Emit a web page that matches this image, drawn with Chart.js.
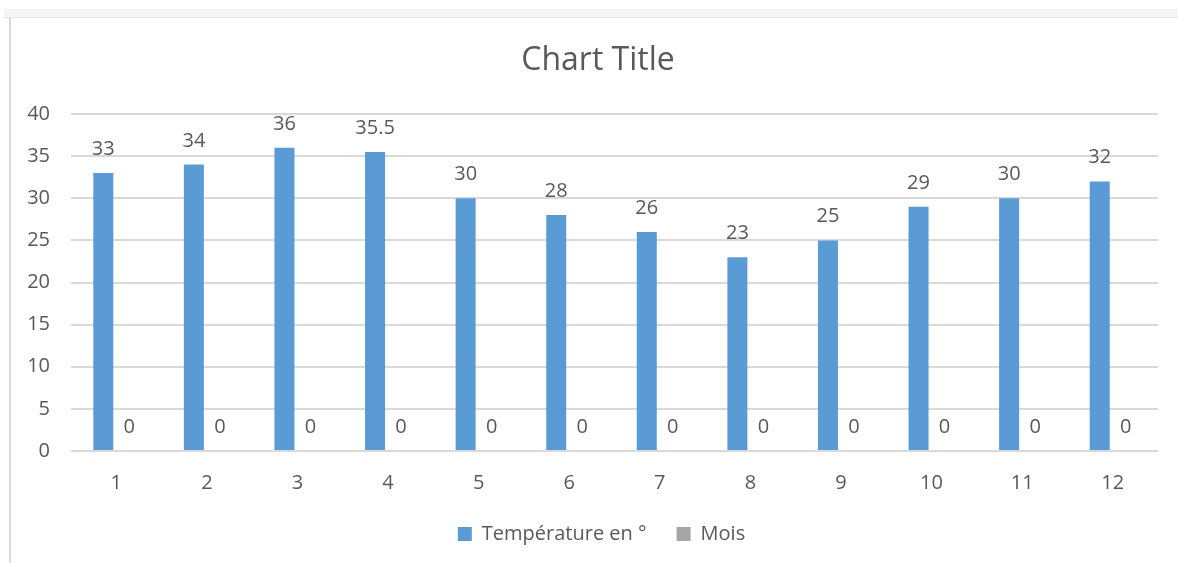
<!DOCTYPE html>
<html>
<head>
<meta charset="utf-8">
<script src="https://cdn.jsdelivr.net/npm/chart.js@4/dist/chart.umd.min.js"></script>
<style>
  html, body { margin: 0; padding: 0; background: #ffffff; }
  #wrap { position: relative; width: 1178px; height: 563px; overflow: hidden; }
  .band { position: absolute; left: 4px; top: 9px; width: 1174px; height: 8px; background: #f4f5f7; }
  .bandline { position: absolute; left: 4px; top: 17px; width: 1174px; height: 1px; background: #e4e5e7; }
  .leftline { position: absolute; left: 9px; top: 17px; width: 2px; height: 546px; background: #d9d9d9; }
  canvas { position: absolute; left: 0; top: 0; }
</style>
</head>
<body>
<div id="wrap">
  <div class="band"></div>
  <div class="bandline"></div>
  <div class="leftline"></div>
  <canvas id="c" width="1178" height="563"></canvas>
</div>
<script>
const categories = ['1','2','3','4','5','6','7','8','9','10','11','12'];
const temperature = [33, 34, 36, 35.5, 30, 28, 26, 23, 25, 29, 30, 32];
const mois = [0, 0, 0, 0, 0, 0, 0, 0, 0, 0, 0, 0];
const seriesNames = ['Température en °', 'Mois'];
const yTicks = [0, 5, 10, 15, 20, 25, 30, 35, 40];

const TEXT = '#595959';
const FONT = "'Open Sans', 'DejaVu Sans', sans-serif";

const dataLabels = {
  id: 'dataLabels',
  afterDatasetsDraw(chart) {
    const ctx = chart.ctx;
    ctx.save();
    ctx.font = '20px ' + FONT;
    ctx.fillStyle = TEXT;
    ctx.textAlign = 'center';
    ctx.textBaseline = 'alphabetic';
    chart.data.datasets.forEach((ds, i) => {
      const meta = chart.getDatasetMeta(i);
      meta.data.forEach((el, j) => {
        ctx.fillText(String(ds.data[j]), el.x, el.y - 18);
      });
    });
    ctx.restore();
  }
};

// Center title and legend over the whole frame (not only the padded layout box)
const recenter = {
  id: 'recenter',
  afterLayout(chart) {
    if (chart.titleBlock) { chart.titleBlock.left = 38; }
    if (chart.legend) { chart.legend.left = 45; }
  }
};

new Chart(document.getElementById('c'), {
  type: 'bar',
  data: {
    labels: categories,
    datasets: [
      { label: seriesNames[0], data: temperature, backgroundColor: '#5B9BD5', borderWidth: 0,
        categoryPercentage: 0.574, barPercentage: 0.77 },
      { label: seriesNames[1], data: mois, backgroundColor: '#A5A5A5', borderWidth: 0,
        categoryPercentage: 0.574, barPercentage: 0.77 }
    ]
  },
  options: {
    responsive: false,
    animation: false,
    devicePixelRatio: 1,
    layout: { padding: { left: 0, right: 20, top: 0, bottom: 9 } },
    plugins: {
      title: {
        display: true,
        text: 'Chart Title',
        color: TEXT,
        font: { family: FONT, size: 32, weight: 'normal', lineHeight: 1.2 },
        padding: { top: 41.8, bottom: 33.8 }
      },
      legend: {
        position: 'bottom',
        labels: {
          color: TEXT,
          font: { family: FONT, size: 20 },
          boxWidth: 14,
          boxHeight: 14,
          padding: 30
        }
      },
      tooltip: { enabled: false }
    },
    scales: {
      x: {
        grid: { display: false, drawTicks: false },
        border: { display: false },
        ticks: { color: TEXT, font: { family: FONT, size: 20 }, padding: 20, maxRotation: 0 },
        afterFit(s) { s.height = 43; }
      },
      y: {
        min: 0,
        max: 40,
        afterBuildTicks(s) { s.ticks = yTicks.map(v => ({ value: v })); },
        grid: { color: '#d9d9d9', lineWidth: 2, drawTicks: false },
        border: { display: false },
        ticks: { color: TEXT, font: { family: FONT, size: 20 }, padding: 21 },
        afterFit(s) { s.width = 71; }
      }
    }
  },
  plugins: [dataLabels, recenter]
});
</script>
</body>
</html>
